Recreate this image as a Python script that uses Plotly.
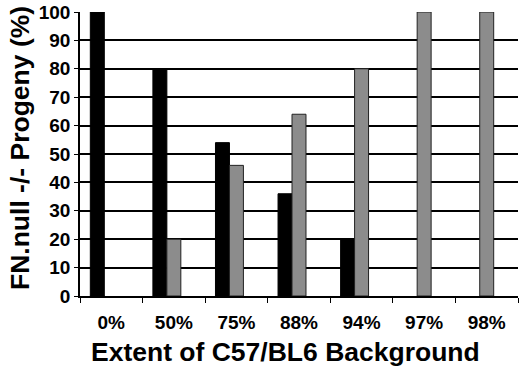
import plotly.graph_objects as go

categories = ["0%", "50%", "75%", "88%", "94%", "97%", "98%"]
series_black = [100, 80, 54, 36, 20, None, None]
series_gray = [None, 20, 46, 64, 80, 100, 100]
series_empty = [None, None, None, None, None, None, None]
y_ticks = [0, 10, 20, 30, 40, 50, 60, 70, 80, 90, 100]
x_title = "Extent of C57/BL6 Background"
y_title = "FN.null -/- Progeny (%)"

fig = go.Figure()
fig.add_trace(go.Bar(x=categories, y=series_black, marker=dict(color="#000000", line=dict(color="#000000", width=1)), name="A"))
fig.add_trace(go.Bar(x=categories, y=series_gray, marker=dict(color="#8c8c8c", line=dict(color="#222222", width=1)), name="B"))
fig.add_trace(go.Bar(x=categories, y=series_empty, marker=dict(color="white"), name="C", hoverinfo="skip"))

font = "Liberation Sans, Arial, sans-serif"
fig.update_layout(
    width=520, height=369,
    margin=dict(l=80, r=2, t=12, b=73),
    plot_bgcolor="white", paper_bgcolor="white",
    barmode="group", bargap=0.33, bargroupgap=0,
    showlegend=False,
    font=dict(family=font, color="black"),
)
fig.update_xaxes(
    type="category", tickson="boundaries", ticks="outside", ticklen=5, tickcolor="black",
    showline=True, linecolor="black", linewidth=1.5, automargin=False,
    ticklabelstandoff=8,
    tickfont=dict(size=19, family=font, color="black", weight="bold"),
    showgrid=False,
)
fig.update_yaxes(
    range=[0, 100], tickvals=y_ticks, ticks="outside", ticklen=4, tickcolor="black",
    showline=True, linecolor="black", linewidth=1.5, automargin=False,
    showgrid=True, gridcolor="black", gridwidth=1.5,
    tickfont=dict(size=19, family=font, color="black", weight="bold"),
    zeroline=False,
)
fig.add_annotation(text=x_title, xref="paper", yref="paper", x=0.47, y=-0.197,
                   xanchor="center", yanchor="middle", showarrow=False,
                   font=dict(size=26.5, family=font, color="black", weight="bold"))
fig.add_annotation(text=y_title, xref="paper", yref="paper", x=-0.137, y=0.521,
                   xanchor="center", yanchor="middle", showarrow=False, textangle=-90,
                   font=dict(size=26.5, family=font, color="black", weight="bold"))
fig.write_html("out.html", config={"displayModeBar": False},
               post_script="document.body.style.margin='0';document.body.style.overflow='hidden';")
